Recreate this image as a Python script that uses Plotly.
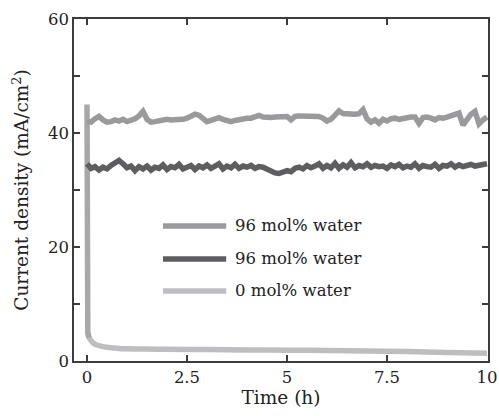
import numpy as np
import plotly.graph_objects as go

# Sampling grid for the two 96 mol% runs (h)
time_h = np.round(np.arange(0, 10.001, 0.1), 1)

# 96 mol% water, upper run (mA/cm2)
water96_a = [
    42.0, 41.9, 42.5, 42.9, 42.3, 41.9, 42.0, 42.3, 42.1, 42.4,
    42.0, 42.2, 42.5, 43.0, 43.8, 42.4, 41.9, 42.0, 42.2, 42.3,
    42.4, 42.3, 42.3, 42.5, 42.4, 42.6, 42.9, 43.3, 43.1, 42.5,
    42.0, 42.2, 42.5, 42.7, 42.4, 42.1, 42.0, 42.2, 42.4, 42.5,
    42.6, 42.6, 42.8, 43.1, 42.8, 42.7, 42.7, 42.8, 42.9, 42.9,
    42.9, 42.3, 42.9, 43.0, 43.0, 43.1, 43.1, 43.0, 42.9, 42.6,
    42.1, 42.4, 43.2, 43.9, 43.4, 43.3, 43.2, 43.3, 43.4, 44.1,
    42.5, 41.9, 42.3, 41.7, 42.4, 42.1, 42.5, 42.6, 42.4, 42.6,
    42.7, 42.8, 42.8, 41.7, 42.7, 42.8, 42.6, 42.3, 42.7, 42.6,
    42.8, 43.0, 43.1, 43.5, 41.4, 42.5, 43.3, 43.8, 41.6, 42.3, 42.8,
]

# 96 mol% water, lower run (mA/cm2)
water96_b = [
    34.6, 33.8, 34.1, 33.5, 34.0, 33.7, 34.3, 34.9, 35.2, 34.6,
    33.9, 34.2, 33.4, 34.1, 33.7, 34.2, 33.5, 34.0, 33.8, 34.4,
    33.6, 34.1, 33.9, 34.5, 33.7, 34.0, 34.3, 33.6, 34.2, 33.9,
    34.4, 33.8, 34.1, 34.6, 33.7, 34.2, 33.9, 34.5, 33.8, 34.2,
    34.0, 34.3, 33.8, 34.1, 34.0, 33.6, 33.3, 33.0, 32.9, 33.1,
    33.4, 33.2, 33.8, 34.0, 33.7, 34.3, 33.9, 34.2, 34.6, 33.8,
    34.3, 33.9, 34.7, 33.8, 34.4, 34.0, 34.8, 33.9, 34.3, 34.1,
    34.6, 34.0, 34.3, 34.1, 34.2, 33.8, 34.4, 34.1, 34.5, 33.9,
    34.2, 34.0, 34.6, 33.8, 34.3, 34.1, 34.0, 34.5, 33.8, 34.3,
    34.2, 34.6, 34.0, 34.4, 34.1, 34.3, 34.5, 34.2, 34.4, 34.5, 34.6,
]

# 0 mol% water: initial drop then slow decay
time_dry = [0, 0.005, 0.02, 0.05, 0.1, 0.15, 0.25, 0.35, 0.5, 0.65, 0.8,
            1.0, 1.5, 2.0, 3.0, 4.0, 5.0, 6.0, 7.0, 8.0, 9.0, 10.0]
water0 = [45.0, 12.0, 5.0, 4.1, 3.6, 3.2, 2.8, 2.6, 2.4, 2.3, 2.2,
          2.15, 2.1, 2.05, 2.0, 1.95, 1.9, 1.85, 1.75, 1.65, 1.5, 1.35]
n_drop = 3  # points forming the initial vertical drop

legend_labels = ["96 mol% water", "96 mol% water", "0 mol% water"]

C_A = "#9a9a9c"
C_B = "#5e5e60"
C_0 = "#bebec0"
AX = "#3c3c3c"
TXT = "#222222"
FONT = "DejaVu Serif"

fig = go.Figure()

fig.add_trace(go.Scatter(x=time_dry[n_drop - 1:], y=water0[n_drop - 1:], mode="lines",
                         line=dict(color=C_0, width=5.5, shape="spline", smoothing=0.6),
                         showlegend=False, hoverinfo="skip"))
fig.add_trace(go.Scatter(x=time_dry[:n_drop + 1], y=water0[:n_drop + 1], mode="lines",
                         line=dict(color="#a8a8aa", width=5.5),
                         showlegend=False, hoverinfo="skip"))
fig.add_trace(go.Scatter(x=time_h, y=water96_b, mode="lines",
                         line=dict(color=C_B, width=5.5),
                         showlegend=False, hoverinfo="skip"))
fig.add_trace(go.Scatter(x=time_h, y=water96_a, mode="lines",
                         line=dict(color=C_A, width=5.5),
                         showlegend=False, hoverinfo="skip"))

# Hand-placed legend inside the plot
legend_colors = [C_A, C_B, C_0]
legend_y = [23.7, 17.9, 12.3]
for lab, col, yy in zip(legend_labels, legend_colors, legend_y):
    fig.add_shape(type="line", xref="x", yref="y", x0=1.9, x1=3.48, y0=yy, y1=yy,
                  line=dict(color=col, width=5.5))
    fig.add_annotation(x=3.65, y=yy, xref="x", yref="y", text=lab, showarrow=False,
                       xanchor="left", yanchor="middle",
                       font=dict(family=FONT, size=16.5, color=TXT))

axis_common = dict(showline=True, linecolor=AX, linewidth=1.5, mirror="ticks",
                   ticks="inside", ticklen=6, tickwidth=1.5, tickcolor=AX,
                   showgrid=False, zeroline=False, automargin=False,
                   tickfont=dict(family=FONT, size=16.5, color=TXT))

fig.update_xaxes(range=[-0.325, 10.025], tickvals=[0, 2.5, 5, 7.5, 10],
                 ticktext=["0", "2.5", "5", "7.5", "10"],
                 title=dict(text="Time (h)", font=dict(family=FONT, size=18.5, color=TXT),
                            standoff=4),
                 **axis_common)
fig.update_yaxes(range=[0, 60], tickvals=[0, 20, 40, 60],
                 minor=dict(tickvals=[10, 30, 50], ticks="inside", ticklen=6,
                            tickwidth=1.5, tickcolor=AX),
                 title=dict(text="Current density (mA/cm<sup>2</sup>)",
                            font=dict(family=FONT, size=18.5, color=TXT), standoff=14),
                 **axis_common)

fig.update_layout(width=499, height=416, margin=dict(l=74, r=11, t=19, b=55),
                  plot_bgcolor="white", paper_bgcolor="white", showlegend=False)

fig.write_html("out.html")
